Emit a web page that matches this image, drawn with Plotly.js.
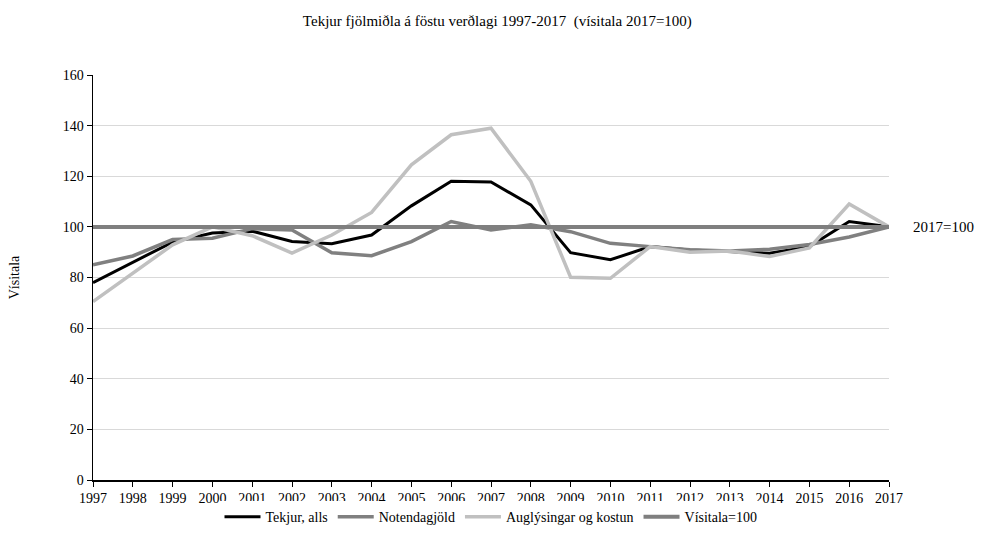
<!DOCTYPE html>
<html>
<head>
<meta charset="utf-8">
<script src="https://cdn.plot.ly/plotly-3.0.1.min.js"></script>
<style>html,body{margin:0;padding:0;background:#fff;}#chart{width:985px;height:551px;}</style>
</head>
<body>
<div id="chart"></div>
<script>
const years = [1997,1998,1999,2000,2001,2002,2003,2004,2005,2006,2007,2008,2009,2010,2011,2012,2013,2014,2015,2016,2017];
const tekjurAlls = [78,86,94,97.6,98.3,94.2,93.3,96.8,108.3,118,117.7,108.7,89.8,87,92.2,90.9,90.2,89.6,92.2,102.1,100];
const notendagjold = [85,88.5,95,95.5,99.3,98.8,89.8,88.6,94.2,102.1,98.8,100.8,98.1,93.5,92.2,91,90.5,91.2,93,96,100];
const auglysingar = [70.5,81.8,92.9,100,96.5,89.6,96.8,105.7,124.5,136.4,139,118,80.1,79.7,92.2,90,90.5,88.3,91.7,109,100];
const visitala = [100,100,100,100,100,100,100,100,100,100,100,100,100,100,100,100,100,100,100,100,100];
const seriesNames = ['Tekjur, alls','Notendagjöld','Auglýsingar og kostun','Vísitala=100'];
const titleText = 'Tekjur fjölmiðla á föstu verðlagi 1997-2017  (vísitala 2017=100)';
const yTitle = 'Vísitala';
const noteText = '2017=100';

const font = '"Liberation Serif", "Times New Roman", serif';
const traces = [
  {x: years, y: tekjurAlls, name: seriesNames[0], mode: 'lines', line: {color: '#000000', width: 3}},
  {x: years, y: notendagjold, name: seriesNames[1], mode: 'lines', line: {color: '#808080', width: 3.5}},
  {x: years, y: auglysingar, name: seriesNames[2], mode: 'lines', line: {color: '#c0c0c0', width: 3.5}},
  {x: years, y: visitala, name: seriesNames[3], mode: 'lines', line: {color: '#7f7f7f', width: 4}}
];
const layout = {
  width: 985, height: 551,
  margin: {l: 93, r: 96, t: 75, b: 71},
  paper_bgcolor: '#ffffff', plot_bgcolor: '#ffffff',
  font: {family: font, size: 14, color: '#000000'},
  title: {text: titleText, font: {family: font, size: 15, color: '#000'}, x: 0.508, xref: 'paper', xanchor: 'center', y: 0.963, yanchor: 'middle'},
  xaxis: {
    range: [1997, 2017], tickvals: years, ticktext: years.map(String),
    showgrid: false, zeroline: false, showline: true, linecolor: '#000', linewidth: 1.5,
    ticks: 'outside', ticklen: 5, tickcolor: '#000', tickfont: {family: font, size: 14, color: '#000'}
  },
  yaxis: {
    range: [0, 160], dtick: 20, showgrid: true, gridcolor: '#d9d9d9', gridwidth: 1,
    zeroline: false, showline: true, linecolor: '#000', linewidth: 1.5,
    ticks: 'outside', ticklen: 5, tickcolor: '#000', tickfont: {family: font, size: 14, color: '#000'},
    title: {text: yTitle, font: {family: font, size: 14, color: '#000'}, standoff: 40}
  },
  showlegend: true,
  legend: {orientation: 'h', x: 0.5, xanchor: 'center', y: -0.092, yanchor: 'middle',
    font: {family: font, size: 14, color: '#000'}, itemwidth: 36, tracegroupgap: 0},
  annotations: [{xref: 'paper', yref: 'y', x: 1, y: 100, xanchor: 'left', xshift: 22, text: noteText,
    showarrow: false, font: {family: font, size: 15, color: '#000'}}]
};
Plotly.newPlot('chart', traces, layout, {displayModeBar: false, staticPlot: true});
</script>
</body>
</html>
